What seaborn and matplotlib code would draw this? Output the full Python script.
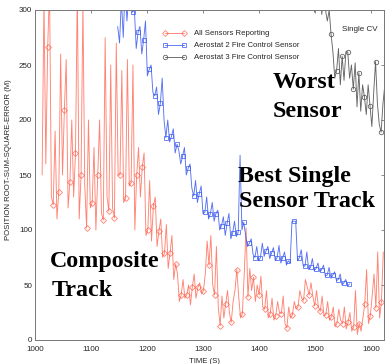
import numpy as np
import pandas as pd
import matplotlib
matplotlib.use("Agg")
import matplotlib.pyplot as plt
import seaborn as sns

# ---------------- data ----------------
# All Sensors Reporting: rows of [marker value, two in-between samples], step 3.31 s from 1012.7 s
red_t0, red_dt = 1012.7, 3.31
red_vals = [
    150, 310, 160,
    266, 320, 130,
    123, 190, 110,
    135, 260, 150,
    209, 255, 120,
    144, 200, 130,
    170, 320, 110,
    150, 305, 140,
    102, 200, 120,
    125, 175, 100,
    150, 200, 115,
    109, 275, 130,
    117, 250, 120,
    111, 270, 150,
    150, 245, 125,
    129, 255, 140,
    143, 250, 100,
    150, 175, 130,
    157, 170, 95,
    100, 145, 90,
    122, 130, 85,
    99, 110, 75,
    79, 105, 65,
    79, 95, 55,
    69, 60, 35,
    41, 55, 38,
    41, 50, 32,
    48, 60, 38,
    48, 52, 42,
    45, 60, 90,
    68, 95, 50,
    41, 85, 30,
    13, 40, 20,
    33, 45, 25,
    16, 35, 45,
    64, 40, 20,
    24, 60, 102,
    39, 65, 45,
    57, 35, 50,
    41, 58, 30,
    28, 45, 20,
    24, 38, 18,
    22, 35, 25,
    24, 40, 15,
    11, 30, 20,
    23, 35, 28,
    30, 45, 38,
    36, 55, 48,
    41, 52, 40,
    31, 45, 30,
    26, 40, 22,
    23, 35, 18,
    21, 30, 12,
    15, 28, 18,
    15, 30, 10,
    16, 25, 8,
    12, 45, 5,
    15, 8, 20,
    33, 64, 15,
    22, 40, 60,
    29, 80, 20,
    35, 80,
]

# Aerostat 2 Fire Control Sensor, step 3.31 s from 1147.6 s
blue_t0, blue_dt = 1147.6, 3.31
blue_vals = [
    285, 270, 310, 275, 320, 290, 315, 305,
    298, 300, 265,
    280, 285, 260,
    273, 290, 240,
    246, 250, 225,
    222, 230, 205,
    215, 238, 200,
    184, 200, 180,
    185, 192, 170,
    178, 172, 160,
    167, 175, 150,
    156, 160, 138,
    131, 145, 125,
    133, 140, 115,
    116, 130, 110,
    115, 125, 108,
    115, 118, 100,
    104, 112, 95,
    106, 115, 92,
    97, 108, 94,
    98, 168, 100,
    107, 95, 85,
    88, 92, 78,
    75, 85, 72,
    75, 88, 76,
    81, 85, 74,
    79, 84, 72,
    75, 86, 70,
    75, 80, 68,
    72, 70, 108,
    108, 108, 72,
    75, 82, 68,
    67, 80, 64,
    66, 74, 63,
    65, 70, 62,
    64, 68, 58,
    59, 66, 56,
    59, 62, 54,
    55, 60, 50,
    52, 55, 49,
    51,
]

# Aerostat 3 Fire Control Sensor, step 3.31 s from 1498.7 s
black_t0, black_dt = 1498.7, 3.31
black_vals = [
    298, 310, 305, 320, 296, 315, 300, 290, 300,
    278, 262, 238,
    245, 265, 232,
    258, 236, 262,
    262, 238, 250,
    228, 252, 212,
    243, 208, 232,
    221, 205, 232,
    213, 194, 225,
    253, 215, 196,
    189, 215, 232,
]

series_labels = ["All Sensors Reporting",
                 "Aerostat 2 Fire Control Sensor",
                 "Aerostat 3 Fire Control Sensor"]
x_ticks = [1000, 1100, 1200, 1300, 1400, 1500, 1600]
y_ticks = [0, 50, 100, 150, 200, 250, 300]


def times(t0, dt, vals):
    return t0 + dt * np.arange(len(vals))


red_df = pd.DataFrame({"t": times(red_t0, red_dt, red_vals), "v": red_vals})
blue_df = pd.DataFrame({"t": times(blue_t0, blue_dt, blue_vals), "v": blue_vals})
black_df = pd.DataFrame({"t": times(black_t0, black_dt, black_vals), "v": black_vals})

# ---------------- style ----------------
sns.set_theme(style="white")
plt.rcParams["font.family"] = ["Liberation Sans", "DejaVu Sans"]

fig = plt.figure(figsize=(3.86, 3.64), dpi=100)
ax = fig.add_axes([35 / 386, 24 / 364, 349 / 386, 330 / 364])

red_c, blue_c, black_c = "#ff5a45", "#3a5af0", "#555555"

sns.lineplot(data=red_df, x="t", y="v", ax=ax, color=red_c, lw=0.65, alpha=0.75,
             marker="D", markersize=3.0, markerfacecolor="none", markeredgecolor=red_c,
             markeredgewidth=0.6, markevery=slice(3, None, 3),
             estimator=None, sort=False, label=series_labels[0])
sns.lineplot(data=blue_df, x="t", y="v", ax=ax, color=blue_c, lw=0.65, alpha=0.85,
             marker="s", markersize=3.2, markerfacecolor="none", markeredgecolor=blue_c,
             markeredgewidth=0.6, markevery=slice(8, None, 3),
             estimator=None, sort=False, label=series_labels[1])
sns.lineplot(data=black_df, x="t", y="v", ax=ax, color=black_c, lw=0.65, alpha=0.9,
             marker="o", markersize=3.2, markerfacecolor="none", markeredgecolor=black_c,
             markeredgewidth=0.6, markevery=slice(9, None, 3),
             estimator=None, sort=False, label=series_labels[2])

ax.set_xlim(1000, 1623)
ax.set_ylim(0, 300)
ax.set_xticks(x_ticks)
ax.set_yticks(y_ticks)
ax.tick_params(direction="in", length=2.5, width=0.6, color="#777777",
               labelsize=5.8, top=True, right=True,
               labeltop=False, labelright=False)
ax.tick_params(axis="x", pad=4)
ax.tick_params(axis="y", pad=2)
for s in ax.spines.values():
    s.set_color("#777777")
    s.set_linewidth(0.7)

ax.set_xlabel("TIME (S)", fontsize=5.6, labelpad=1)
ax.set_ylabel("POSITION ROOT-SUM-SQUARE-ERROR (M)", fontsize=5.6)
ax.xaxis.set_label_coords(0.487, -0.056)
ax.yaxis.set_label_coords(-0.066, 0.548)

leg = ax.legend(loc="upper left", bbox_to_anchor=(0.367, 0.94), frameon=False,
                fontsize=5.6, numpoints=2, handlelength=3.0, handletextpad=1.0,
                labelspacing=0.6, borderpad=0, borderaxespad=0)

ax.text(0.880, 0.942, "Single CV", transform=ax.transAxes, fontsize=5.8,
        ha="left", va="center")

big = dict(transform=ax.transAxes, fontsize=17.3, fontweight="bold",
           family=["Liberation Serif", "DejaVu Serif"], ha="left", va="baseline",
           color="black")
ax.text(0.682, 0.764, "Worst", **big)
ax.text(0.682, 0.676, "Sensor", **big)
ax.text(0.582, 0.479, "Best Single", **big)
ax.text(0.585, 0.403, "Sensor Track", **big)
ax.text(0.043, 0.221, "Composite", **big)
ax.text(0.049, 0.133, "Track", **big)

fig.savefig("out.png", dpi=100)
